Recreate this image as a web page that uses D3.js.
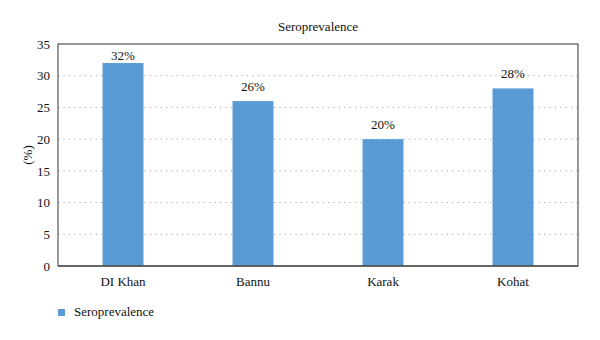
<!DOCTYPE html>
<html>
<head>
<meta charset="utf-8">
<script src="https://cdn.jsdelivr.net/npm/d3@7"></script>
<style>
  body { margin: 0; background: #fff; }
  text { font-family: "Liberation Serif", "DejaVu Serif", serif; fill: #111; }
</style>
</head>
<body>
<div id="chart"></div>
<script>
// Data
const districts = ["DI Khan", "Bannu", "Karak", "Kohat"];
const seroValues = [32, 26, 20, 28];
const yTicks = [0, 5, 10, 15, 20, 25, 30, 35];
const seriesName = "Seroprevalence";

const W = 600, H = 340;
const margin = { top: 44, right: 22, bottom: 74, left: 58 },
    width = W - margin.left - margin.right,
    height = H - margin.top - margin.bottom;

const svg = d3.select("#chart")
    .append("svg")
    .attr("width", W)
    .attr("height", H);

const g = svg.append("g")
    .attr("transform", `translate(${margin.left},${margin.top})`);

// Scales
const x = d3.scaleBand()
    .domain(districts)
    .range([0, width])
    .padding(0);

const y = d3.scaleLinear()
    .domain([0, 35])
    .range([height, 0]);

const barW = x.bandwidth() * 0.315;

// Grid lines (dotted)
g.append("g")
    .selectAll("line")
    .data(yTicks.filter(t => t > 0 && t < 35))
    .enter()
    .append("line")
    .attr("x1", 0)
    .attr("x2", width)
    .attr("y1", d => y(d))
    .attr("y2", d => y(d))
    .attr("stroke", "#a8a8a8")
    .attr("stroke-width", 1)
    .attr("stroke-dasharray", "1.2,4.2");

// Bars
g.selectAll(".bar")
    .data(seroValues)
    .enter()
    .append("rect")
    .attr("class", "bar")
    .attr("x", (d, i) => x(districts[i]) + x.bandwidth() / 2 - barW / 2)
    .attr("y", d => y(d))
    .attr("width", barW)
    .attr("height", d => height - y(d))
    .attr("fill", "#5b9bd5");

// Value labels
g.selectAll(".val")
    .data(seroValues)
    .enter()
    .append("text")
    .attr("class", "val")
    .attr("x", (d, i) => x(districts[i]) + x.bandwidth() / 2)
    .attr("y", d => Math.max(y(d) - 10, 16))
    .attr("text-anchor", "middle")
    .style("font-size", "13px")
    .text(d => d + "%");

// Frame
g.append("rect")
    .attr("width", width)
    .attr("height", height)
    .attr("fill", "none")
    .attr("stroke", "#333")
    .attr("stroke-width", 1);

g.append("line")
    .attr("x1", 0).attr("x2", width)
    .attr("y1", height).attr("y2", height)
    .attr("stroke", "#555")
    .attr("stroke-width", 1.5);

// Y axis
const yAxis = g.append("g")
    .call(d3.axisLeft(y).tickValues(yTicks).tickSize(0).tickPadding(8));
yAxis.select(".domain").remove();
yAxis.selectAll("text")
    .style("font-family", "Liberation Serif, serif")
    .style("font-size", "13px")
    .attr("fill", "#111");

// X axis
const xAxis = g.append("g")
    .attr("transform", `translate(0,${height})`)
    .call(d3.axisBottom(x).tickSize(0).tickPadding(11));
xAxis.select(".domain").remove();
xAxis.selectAll("text")
    .style("font-family", "Liberation Serif, serif")
    .style("font-size", "13px")
    .attr("fill", "#111");

// Title
svg.append("text")
    .attr("x", margin.left + width / 2)
    .attr("y", 31)
    .attr("text-anchor", "middle")
    .style("font-size", "13px")
    .text("Seroprevalence");

// Y axis title
svg.append("text")
    .attr("transform", `translate(32,${margin.top + height / 2}) rotate(-90)`)
    .attr("text-anchor", "middle")
    .style("font-size", "13px")
    .text("(%)");

// Legend
const legend = svg.append("g")
    .attr("transform", `translate(58,${H - 31})`);
legend.append("rect")
    .attr("width", 7)
    .attr("height", 7)
    .attr("fill", "#5b9bd5");
legend.append("text")
    .attr("x", 16)
    .attr("y", 7)
    .style("font-size", "13px")
    .text(seriesName);
</script>
</body>
</html>
